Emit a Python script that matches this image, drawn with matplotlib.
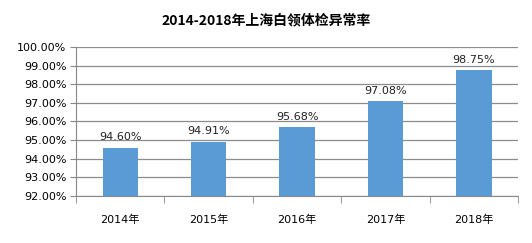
import numpy as np
import matplotlib.pyplot as plt

plt.rcParams['font.family'] = ['DejaVu Sans', 'Noto Sans CJK SC']

years = ['2014年', '2015年', '2016年', '2017年', '2018年']
rates = [94.60, 94.91, 95.68, 97.08, 98.75]
title = '2014-2018年上海白领体检异常率'

fig = plt.figure(figsize=(5.32, 2.43), dpi=100)
ax = fig.add_axes([0.143, 0.193, 0.831, 0.614])

x = np.arange(len(years))
ax.bar(x, [r - 92 for r in rates], bottom=92, width=0.4, color='#5B9BD5', zorder=3)
for xi, r in zip(x, rates):
    ax.text(xi, r + 0.3, '%.2f%%' % r, ha='center', va='bottom', fontsize=8, color='#222222')

ax.set_ylim(92, 100)
ax.set_yticks(np.arange(92, 100.01, 1))
ax.set_yticklabels(['%.2f%%' % v for v in np.arange(92, 100.01, 1)], fontsize=8)
ax.set_xlim(-0.5, len(years) - 0.5)
ax.set_xticks(x)
ax.set_xticklabels(years, family=['DejaVu Sans', 'Noto Sans CJK SC'], fontsize=8)
ax.tick_params(axis='x', length=0, pad=13)
ax.set_xticks(np.arange(-0.5, len(years)), minor=True)
ax.tick_params(axis='x', which='minor', length=5, color='#888888')
ax.tick_params(axis='y', length=4, color='#888888', pad=3)

ax.grid(axis='y', color='#8c8c8c', linewidth=0.9, zorder=0)
for s in ['top', 'right']:
    ax.spines[s].set_visible(False)
ax.spines['left'].set_color('#888888')
ax.spines['bottom'].set_color('#888888')

fig.text(0.5, 0.915, title, ha='center', va='center', fontsize=10, fontweight='bold',
         family=['Noto Sans CJK SC', 'DejaVu Sans'])

fig.savefig('out.png', dpi=100)
